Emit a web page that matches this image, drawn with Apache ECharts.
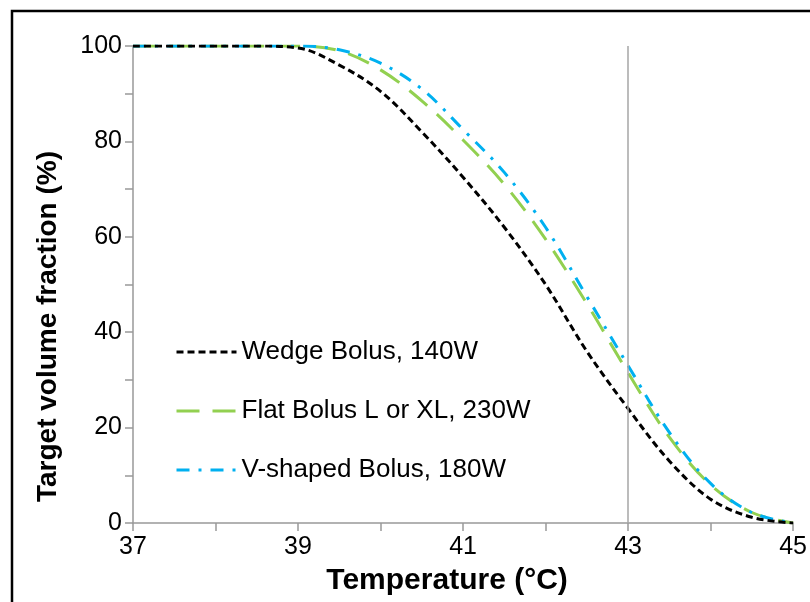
<!DOCTYPE html>
<html>
<head>
<meta charset="utf-8">
<script src="https://cdn.jsdelivr.net/npm/echarts@6/dist/echarts.min.js"></script>
<style>
  html, body { margin: 0; padding: 0; background: #fff; }
  #chart { width: 810px; height: 602px; }
</style>
</head>
<body>
<div id="chart"></div>
<script>
// Temperature grid (°C)
const temperature = [37, 37.5, 38, 38.5, 39, 39.5, 40, 40.5, 41, 41.5, 42, 42.5, 43, 43.5, 44, 44.5, 45];

// Fraction of target volume reaching each temperature (%)
const wedgeBolus = [100, 100, 100, 100, 99.6, 96, 90.5, 82, 72.5, 62, 50, 36, 24, 13, 5, 1.2, 0];
const flatBolus  = [100, 100, 100, 100, 100, 99, 95, 88.5, 80.3, 71, 59.5, 46, 31.5, 18, 8, 2.2, 0];
const vBolus     = [100, 100, 100, 100, 100, 99.2, 96.4, 91, 82.5, 73.5, 62, 47.5, 33, 19, 8.3, 2.2, 0];

const seriesNames = ['Wedge Bolus, 140W', 'Flat Bolus L or XL, 230W', 'V-shaped Bolus, 180W'];

const xTicks = [37, 39, 41, 43, 45];
const yTicks = [0, 20, 40, 60, 80, 100];
const referenceTemp = 43;

const pairs = ys => temperature.map((t, i) => [t, ys[i]]);

const chart = echarts.init(document.getElementById('chart'), null, { renderer: 'canvas' });
const font = 'Arial, "Liberation Sans", sans-serif';

chart.setOption({
  animation: false,
  backgroundColor: '#fff',
  textStyle: { fontFamily: font },
  graphic: [{
    type: 'rect',
    shape: { x: 12, y: 11, width: 900, height: 700 },
    style: { fill: 'none', stroke: '#000', lineWidth: 2.5 },
    silent: true
  }],
  grid: { left: 133, right: 16, top: 46, bottom: 79, containLabel: false },
  legend: {
    orient: 'vertical',
    left: 175,
    top: 339,
    padding: 0,
    itemWidth: 60,
    itemHeight: 26,
    itemGap: 33,
    itemStyle: { opacity: 0 },
    lineStyle: { width: 3 },
    textStyle: { fontSize: 26, color: '#000', fontFamily: font },
    data: seriesNames
  },
  xAxis: {
    type: 'value',
    min: 37, max: 45, interval: 1,
    name: 'Temperature (°C)',
    nameLocation: 'middle',
    nameGap: 43,
    nameTextStyle: { fontSize: 30, fontWeight: 'bold', color: '#000', fontFamily: font, padding: [0, 32, 0, 0] },
    axisLine: { show: true, onZero: false, lineStyle: { color: '#999', width: 1.5 } },
    axisTick: { show: true, length: 8, lineStyle: { color: '#999', width: 1.5 } },
    axisLabel: {
      fontSize: 25, color: '#000', margin: 12, fontFamily: font,
      formatter: v => (xTicks.indexOf(v) >= 0 ? String(v) : '')
    },
    splitLine: { show: false }
  },
  yAxis: {
    type: 'value',
    min: 0, max: 100, interval: 10,
    name: 'Target volume fraction (%)',
    nameLocation: 'middle',
    nameGap: 71,
    nameTextStyle: { fontSize: 28, fontWeight: 'bold', color: '#000', fontFamily: font, padding: [0, 84, 0, 0] },
    axisLine: { show: true, lineStyle: { color: '#999', width: 1.5 } },
    axisTick: { show: true, length: 8, lineStyle: { color: '#999', width: 1.5 } },
    axisLabel: {
      fontSize: 25, color: '#000', margin: 11, fontFamily: font,
      formatter: v => (yTicks.indexOf(v) >= 0 ? String(v) : '')
    },
    splitLine: { show: false }
  },
  series: [
    {
      name: seriesNames[0],
      type: 'line',
      data: pairs(wedgeBolus),
      smooth: 0.35,
      symbol: 'none',
      z: 3,
      lineStyle: { color: '#000', width: 3, type: [7, 4] },
      itemStyle: { color: '#000' },
      markLine: {
        silent: true,
        symbol: 'none',
        label: { show: false },
        lineStyle: { color: '#a6a6a6', width: 1.5, type: 'solid' },
        data: [{ xAxis: referenceTemp }]
      }
    },
    {
      name: seriesNames[1],
      type: 'line',
      data: pairs(flatBolus),
      smooth: 0.35,
      symbol: 'none',
      z: 2,
      lineStyle: { color: '#92d050', width: 3, type: [23, 13] },
      itemStyle: { color: '#92d050' }
    },
    {
      name: seriesNames[2],
      type: 'line',
      data: pairs(vBolus),
      smooth: 0.35,
      symbol: 'none',
      z: 2,
      lineStyle: { color: '#00b0f0', width: 3, type: [13, 9, 3, 9] },
      itemStyle: { color: '#00b0f0' }
    }
  ]
});
</script>
</body>
</html>
